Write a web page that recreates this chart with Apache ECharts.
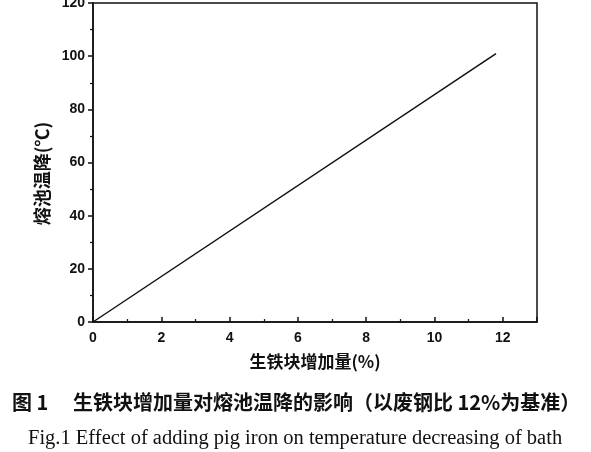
<!DOCTYPE html>
<html><head><meta charset="utf-8">
<script src="https://cdn.jsdelivr.net/npm/echarts@6/dist/echarts.min.js"></script>
<style>html,body{margin:0;padding:0;background:#fff}#c{width:591px;height:452px}</style>
</head><body><div id="c"></div>
<script>
var xValues = [0, 11.8];
var yValues = [0, 101];
var xTicks = [0, 2, 4, 6, 8, 10, 12];
var yTicks = [0, 20, 40, 60, 80, 100, 120];
var xName = '生铁块增加量(%)';
var yName = '熔池温降(℃)';
var captionCN = '图 1　 生铁块增加量对熔池温降的影响（以废钢比 12%为基准）';
var captionEN = 'Fig.1 Effect of adding pig iron on temperature decreasing of bath';

var chart = echarts.init(document.getElementById('c'));
var lab = {color:'#111', fontFamily:'Liberation Sans, Arial', fontWeight:'bold', fontSize:14};
chart.setOption({
  animation:false,
  grid:{left:93, top:3, right:54, bottom:130, show:true, borderColor:'#111', borderWidth:1.5,
    outerBoundsMode:'none', containLabel:false},
  xAxis:{type:'value', min:0, max:13, interval:2,
    axisLine:{lineStyle:{color:'#111', width:1.5}},
    axisTick:{inside:true, length:5, lineStyle:{color:'#111', width:1.5}},
    minorTick:{show:true, splitNumber:2, length:3, lineStyle:{color:'#111', width:1.2}},
    splitLine:{show:false},
    axisLabel:Object.assign({margin:9, showMaxLabel:false, formatter:function(v){return xTicks.indexOf(v)>=0?String(v):'';}}, lab),
    name:xName, nameLocation:'middle', nameGap:31,
    nameTextStyle:{color:'#111', fontFamily:'Noto Sans CJK SC', fontWeight:'bold', fontSize:17}
  },
  yAxis:{type:'value', min:0, max:120, interval:20,
    axisLine:{lineStyle:{color:'#111', width:1.5}},
    axisTick:{inside:false, length:5, lineStyle:{color:'#111', width:1.5}},
    minorTick:{show:true, splitNumber:2, length:3, lineStyle:{color:'#111', width:1.2}},
    splitLine:{show:false},
    axisLabel:Object.assign({margin:8, formatter:function(v){return yTicks.indexOf(v)>=0?String(v):'';}}, lab),
    name:yName, nameLocation:'middle', nameGap:37,
    nameTextStyle:{color:'#111', fontFamily:'Noto Sans CJK SC', fontWeight:'bold', fontSize:18, padding:[0,22,0,0]}
  },
  series:[{type:'line', data:xValues.map(function(x,i){return [x, yValues[i]];}),
    showSymbol:false, lineStyle:{color:'#111', width:1.5}}],
  graphic:[
    {type:'text', left:12, top:392, style:{text:captionCN, fill:'#111', font:'bold 20px "Noto Sans CJK SC"'}},
    {type:'text', left:28, top:428, style:{text:captionEN, fill:'#111', font:'20.5px "Liberation Serif", serif'}}
  ]
});
</script></body></html>
